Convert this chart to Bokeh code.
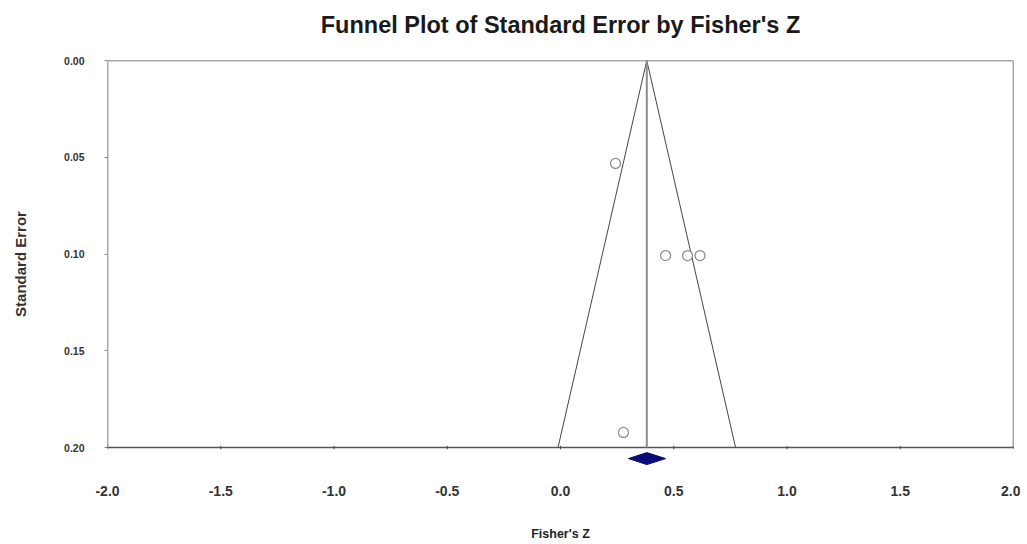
from bokeh.plotting import figure
from bokeh.models import Range1d, FixedTicker, NumeralTickFormatter, Title
from bokeh.embed import file_html
from bokeh.resources import INLINE

# ---- data ----
study_z = [0.243, 0.464, 0.561, 0.616, 0.278]
study_se = [0.0532, 0.1008, 0.1008, 0.1008, 0.1922]
summary_z = 0.381
summary_lo = 0.300
summary_hi = 0.464
x_ticks = [-2.0, -1.5, -1.0, -0.5, 0.0, 0.5, 1.0, 1.5, 2.0]
y_ticks = [0.00, 0.05, 0.10, 0.15, 0.20]
se_max = 0.20
x_min, x_max = -2.0, 2.0
title_text = "Funnel Plot of Standard Error by Fisher's Z"

FONT = "Liberation Sans"
EXTRA = 0.0103   # room below the funnel box for the summary diamond

p = figure(width=1020, height=544, output_backend="svg", toolbar_location=None,
           x_range=Range1d(x_min, x_max), y_range=Range1d(se_max + EXTRA, 0.0),
           title=title_text,
           min_border_left=107, min_border_right=7, min_border_top=60, min_border_bottom=77)

p.background_fill_color = "white"
p.border_fill_color = "white"
p.outline_line_color = None
p.xgrid.visible = False
p.ygrid.visible = False

# spacer between the title and the plot box
p.add_layout(Title(text=" ", text_font_size="1px", standoff=20), "above")

p.title.align = "center"
p.title.vertical_align = "bottom"
p.title.text_font = FONT
p.title.text_font_size = "23.5px"
p.title.text_font_style = "bold"
p.title.text_color = "#1a1a1a"
p.title.standoff = 0

# x axis (labels only; ticks drawn on the box bottom)
xa = p.xaxis[0]
xa.ticker = FixedTicker(ticks=x_ticks)
xa.formatter = NumeralTickFormatter(format="0.0")
xa.axis_line_color = None
xa.major_tick_line_color = None
xa.minor_tick_line_color = None
xa.major_label_standoff = 12
xa.major_label_text_font = FONT
xa.major_label_text_font_size = "14px"
xa.major_label_text_font_style = "bold"
xa.major_label_text_color = "#333333"
xa.axis_label = "Fisher's Z"
xa.axis_label_text_font = FONT
xa.axis_label_text_font_size = "12.5px"
xa.axis_label_text_font_style = "bold"
xa.axis_label_text_color = "#222222"
xa.axis_label_standoff = 28

ya = p.yaxis[0]
ya.ticker = FixedTicker(ticks=y_ticks)
ya.formatter = NumeralTickFormatter(format="0.00")
ya.axis_line_color = None
ya.major_tick_in = 0
ya.major_tick_out = 3
ya.major_tick_line_color = "#888888"
ya.minor_tick_line_color = None
ya.major_label_standoff = 20
ya.major_label_text_font = FONT
ya.major_label_text_font_size = "10.5px"
ya.major_label_text_font_style = "bold"
ya.major_label_text_color = "#333333"
ya.axis_label = "Standard Error"
ya.axis_label_text_font = FONT
ya.axis_label_text_font_size = "15px"
ya.axis_label_text_font_style = "bold"
ya.axis_label_text_color = "#333333"
ya.axis_label_standoff = 32

# plot box (SE 0 .. 0.20)
p.quad(left=[x_min], right=[x_max], top=[0.0], bottom=[se_max],
       fill_color=None, line_color="#555555", line_width=1.5)
# small ticks on the box bottom
tk = 0.0009
p.segment(x0=x_ticks, x1=x_ticks, y0=[se_max - tk] * len(x_ticks), y1=[se_max + tk] * len(x_ticks),
          line_color="#444444", line_width=1)

# funnel (95% pseudo-confidence limits)
p.line([summary_z - 1.96 * se_max, summary_z, summary_z + 1.96 * se_max],
       [se_max, 0.0, se_max], line_color="#444444", line_width=1)
# summary vertical line
p.line([summary_z, summary_z], [0.0, se_max], line_color="#8c8c8c", line_width=2)

# studies
p.scatter(study_z, study_se, marker="circle", size=10, fill_color="white",
          line_color="#8a8a8a", line_width=1.2)

# summary diamond
dy = 0.0031
yc = se_max + 0.0057
p.patch([summary_lo, summary_z, summary_hi, summary_z],
        [yc, yc - dy, yc, yc + dy],
        fill_color="#0a0a78", line_color="#0a0a78", line_width=1)

open("out.html", "w").write(file_html(p, INLINE))
